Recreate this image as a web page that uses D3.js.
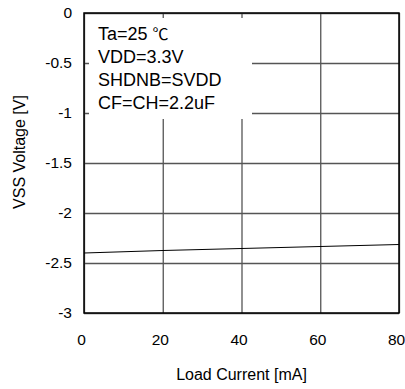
<!DOCTYPE html>
<html lang='en'>
<head>
  <meta charset='UTF-8'>
  <title>VSS Voltage vs Load Current</title>
  <style>
  body {
    margin: 0;
    background: white;
  }
  text {
    font-family: 'Liberation Sans', Arial, sans-serif;
    fill: black;
  }
  .tick text {
    font-size: 15.5px;
  }
  .label {
    font-size: 16px;
  }
  .note {
    font-size: 18px;
  }
  .grid line {
    stroke: #555;
    stroke-width: 1.3;
  }
  .grid path {
    display: none;
  }
  </style>
  <script src='https://d3js.org/d3.v7.min.js'></script>
</head>
<body>
  <script>

  // data
  var loadCurrent = [0, 10, 20, 40, 60, 80];
  var vssVoltage = [-2.40, -2.387, -2.375, -2.355, -2.335, -2.315];
  var xTicks = [0, 20, 40, 60, 80];
  var yTicks = [0, -0.5, -1, -1.5, -2, -2.5, -3];
  var notes = ['Ta=25 ', 'VDD=3.3V', 'SHDNB=SVDD', 'CF=CH=2.2uF'];

  var svgWidth = 405;
  var svgHeight = 389;
  var margin = { top: 13, right: 6, bottom: 76, left: 84 };
  var width = svgWidth - margin.left - margin.right;
  var height = svgHeight - margin.top - margin.bottom;

  var svg = d3.select('body').append('svg')
    .attr('width', svgWidth)
    .attr('height', svgHeight);

  var g = svg.append('g').attr('transform', 'translate(' + margin.left + ',' + margin.top + ')');

  var x = d3.scaleLinear().domain([0, 80]).range([0, width]);
  var y = d3.scaleLinear().domain([-3, 0]).range([height, 0]);

  // grid lines

  g.append('g')
    .attr('class', 'grid')
    .attr('transform', 'translate(0,' + height + ')')
    .call(d3.axisBottom(x).tickValues(xTicks).tickSize(-height).tickFormat(''));

  g.append('g')
    .attr('class', 'grid')
    .call(d3.axisLeft(y).tickValues(yTicks).tickSize(-width).tickFormat(''));

  // tick labels (the reference sets them a little left of the grid lines)

  g.append('g')
    .attr('transform', 'translate(0,' + height + ')')
    .call(d3.axisBottom(x).tickValues(xTicks).tickSize(0).tickPadding(21).tickFormat(d3.format('d')))
    .call(function (a) {
      a.select('.domain').remove();
      a.selectAll('text').attr('dx', -3);
    });

  g.append('g')
    .call(d3.axisLeft(y).tickValues(yTicks).tickSize(0).tickPadding(12).tickFormat(function (d) { return String(d); }))
    .call(function (a) { a.select('.domain').remove(); });

  // data line

  var pts = loadCurrent.map(function (c, i) { return [c, vssVoltage[i]]; });

  g.append('path')
    .datum(pts)
    .attr('fill', 'none')
    .attr('stroke', 'black')
    .attr('stroke-width', 1.1)
    .attr('d', d3.line()
      .x(function (d) { return x(d[0]); })
      .y(function (d) { return y(d[1]); }));

  // conditions box

  g.append('rect')
    .attr('x', 5)
    .attr('y', 5)
    .attr('width', 163)
    .attr('height', 101)
    .attr('fill', 'white');

  var note = g.append('text').attr('class', 'note');
  notes.forEach(function (t, i) {
    note.append('tspan')
      .attr('x', 14)
      .attr('y', 27 + i * 23)
      .text(t);
    if (i === 0) {
      note.append('tspan')
        .style('font-size', '16px')
        .style('font-family', "'Noto Sans CJK JP'")
        .text('\u2103');
    }
  });

  // frame

  g.append('rect')
    .attr('width', width)
    .attr('height', height)
    .attr('fill', 'none')
    .attr('stroke', 'black')
    .attr('stroke-width', 1.5);

  // axis labels

  svg.append('text')
    .attr('class', 'label')
    .attr('text-anchor', 'middle')
    .attr('x', margin.left + width / 2)
    .attr('y', 380)
    .text('Load Current [mA]');

  svg.append('text')
    .attr('class', 'label')
    .attr('text-anchor', 'middle')
    .attr('transform', 'translate(25,152) rotate(-90)')
    .text('VSS Voltage [V]');
  </script>
</body>
</html>
